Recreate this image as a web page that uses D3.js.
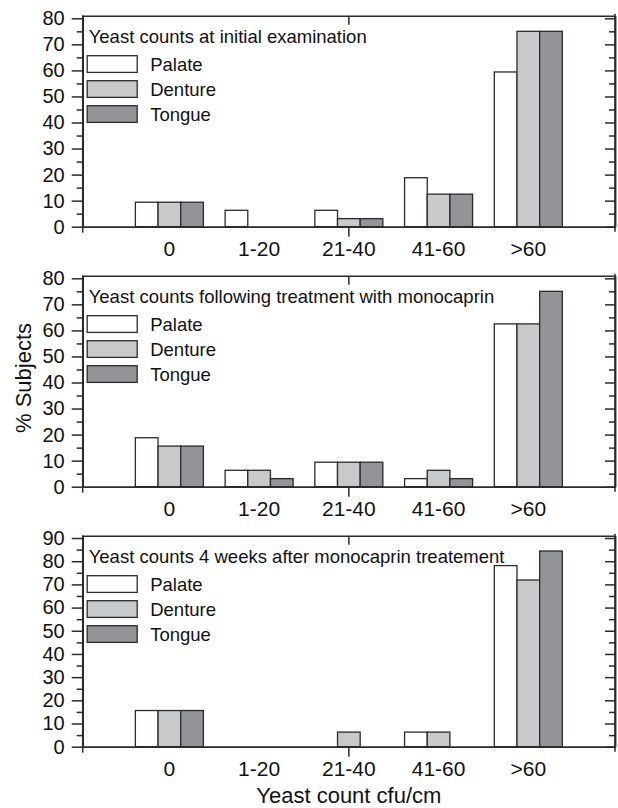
<!DOCTYPE html>
<html>
<head>
<meta charset="utf-8">
<script src="https://cdn.jsdelivr.net/npm/d3@7/dist/d3.min.js"></script>
<style>
  body { margin: 0; background: #fff; }
  text { font-family: "Liberation Sans", Arial, sans-serif; fill: #111; }
</style>
</head>
<body>
<script>
var categories = ['0', '1-20', '21-40', '41-60', '>60'];
var seriesNames = ['Palate', 'Denture', 'Tongue'];
var seriesColors = ['#ffffff', '#c8c9cb', '#939497'];

var panelTitles = [
  'Yeast counts at initial examination',
  'Yeast counts following treatment with monocaprin',
  'Yeast counts 4 weeks after monocaprin treatement'
];

// % subjects per count class
var initialPalate = [9.4, 6.3, 6.3, 18.8, 59.4];
var initialDenture = [9.4, 0, 3.1, 12.5, 75];
var initialTongue = [9.4, 0, 3.1, 12.5, 75];

var treatedPalate = [18.8, 6.3, 9.4, 3.1, 62.5];
var treatedDenture = [15.6, 6.3, 9.4, 6.3, 62.5];
var treatedTongue = [15.6, 3.1, 9.4, 3.1, 75];

var laterPalate = [15.6, 0, 0, 6.3, 78.1];
var laterDenture = [15.6, 0, 6.3, 6.3, 71.9];
var laterTongue = [15.6, 0, 0, 0, 84.4];

var yTicksShort = [0, 10, 20, 30, 40, 50, 60, 70, 80];
var yTicksLong = [0, 10, 20, 30, 40, 50, 60, 70, 80, 90];

var panels = [
  { values: [initialPalate, initialDenture, initialTongue], ticks: yTicksShort, max: 81 },
  { values: [treatedPalate, treatedDenture, treatedTongue], ticks: yTicksShort, max: 81 },
  { values: [laterPalate, laterDenture, laterTongue], ticks: yTicksLong, max: 91 }
];

var width = 618, height = 808;
var left = 82.7, right = 615;
var tops = [15.7, 275.7, 535.7];
var ph = 211;
var ink = '#2b2b2b';

var svg = d3.select('body').append('svg').attr('width', width).attr('height', height);

var x = d3.scaleBand().domain(categories).range([left, right])
  .paddingInner(0.242).paddingOuter(0.587);
var xs = d3.scaleBand().domain(seriesNames).range([0, x.bandwidth()]);

panels.forEach(function (p, k) {
  var g = svg.append('g').attr('transform', 'translate(0,' + tops[k] + ')');
  var y = d3.scaleLinear().domain([0, p.max]).range([ph, 0]);

  var minor = d3.range(5, p.max, 10);

  // bars
  var rows = [];
  p.values.forEach(function (vals, s) {
    vals.forEach(function (v, c) {
      if (v > 0) rows.push({ cat: categories[c], series: seriesNames[s], idx: s, value: v });
    });
  });

  g.selectAll('rect.bar').data(rows).enter().append('rect')
    .attr('class', 'bar')
    .attr('x', function (d) { return x(d.cat) + xs(d.series); })
    .attr('y', function (d) { return y(d.value); })
    .attr('width', xs.bandwidth())
    .attr('height', function (d) { return y(0) - y(d.value); })
    .attr('fill', function (d) { return seriesColors[d.idx]; })
    .attr('stroke', ink)
    .attr('stroke-width', 1.3);

  // left axis, major + minor ticks
  var la = g.append('g').attr('transform', 'translate(' + left + ',0)')
    .call(d3.axisLeft(y).tickValues(p.ticks).tickSize(11).tickSizeOuter(0).tickPadding(7));
  la.selectAll('text').style('font-size', '20px');
  g.append('g').attr('transform', 'translate(' + left + ',0)')
    .call(d3.axisLeft(y).tickValues(minor).tickSize(6).tickFormat('').tickSizeOuter(0));

  // right border, ticks pointing in
  g.append('g').attr('transform', 'translate(' + right + ',0)')
    .call(d3.axisLeft(y).tickValues(p.ticks).tickSize(10).tickFormat('').tickSizeOuter(0));
  g.append('g').attr('transform', 'translate(' + right + ',0)')
    .call(d3.axisLeft(y).tickValues(minor).tickSize(6).tickFormat('').tickSizeOuter(0));

  // bottom axis: labels under every class, single tick at the middle
  var ba = g.append('g').attr('transform', 'translate(0,' + ph + ')')
    .call(d3.axisBottom(x).tickSize(0).tickPadding(14));
  ba.selectAll('text').style('font-size', '21px');
  g.append('g').attr('transform', 'translate(0,' + ph + ')')
    .call(d3.axisBottom(x).tickValues(['21-40']).tickSize(10).tickFormat('').tickSizeOuter(0));

  // top border with the inward tick
  g.append('g')
    .call(d3.axisBottom(x).tickValues(['21-40']).tickSize(9).tickFormat('').tickSizeOuter(0));

  // vertical lines run a little past the frame
  g.append('line').attr('x1', left).attr('x2', left).attr('y1', -0.5).attr('y2', ph + 6);
  g.append('line').attr('x1', right).attr('x2', right).attr('y1', -2).attr('y2', ph + 5);

  g.selectAll('.domain, .tick line, line').attr('stroke', ink).attr('stroke-width', 1.5);

  // panel title and legend
  g.append('text').attr('x', left + 6).attr('y', 27)
    .style('font-size', '18.5px').text(panelTitles[k]);

  var lg = g.append('g').attr('transform', 'translate(' + (left + 4.5) + ',40)');
  var items = lg.selectAll('g').data(seriesNames).enter().append('g')
    .attr('transform', function (d, i) { return 'translate(0,' + i * 25 + ')'; });
  items.append('rect')
    .attr('width', 50).attr('height', 16.7)
    .attr('fill', function (d, i) { return seriesColors[i]; })
    .attr('stroke', ink).attr('stroke-width', 1.3);
  items.append('text').attr('x', 63).attr('y', 8.35).attr('dy', '0.35em')
    .style('font-size', '18.5px').text(function (d) { return d; });
});

// axis titles
svg.append('text')
  .attr('transform', 'translate(31,378) rotate(-90)')
  .attr('text-anchor', 'middle')
  .style('font-size', '22px')
  .text('% Subjects');

svg.append('text')
  .attr('x', (left + right) / 2).attr('y', 803)
  .attr('text-anchor', 'middle')
  .style('font-size', '22px')
  .text('Yeast count cfu/cm');
</script>
</body>
</html>
